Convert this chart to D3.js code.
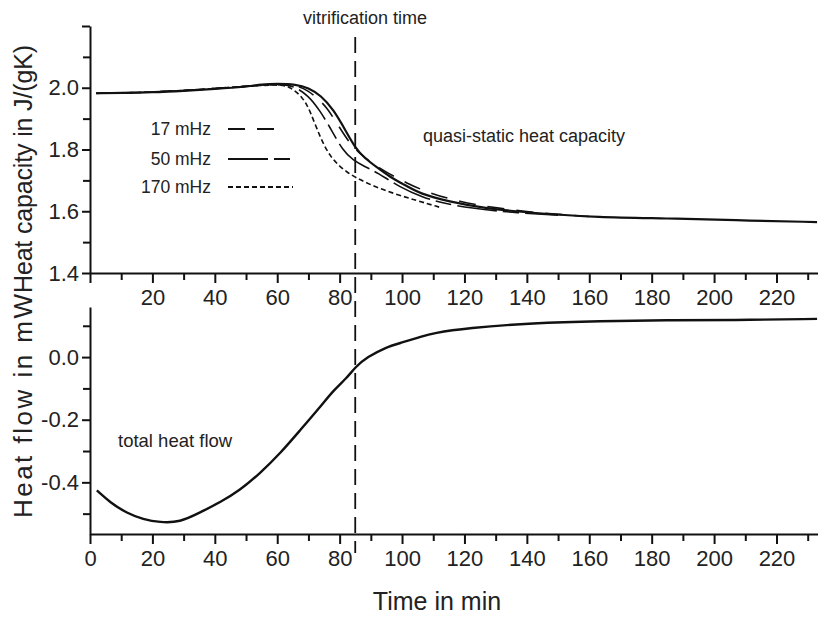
<!DOCTYPE html>
<html>
<head>
<meta charset="utf-8">
<script src="https://cdn.jsdelivr.net/npm/d3@7"></script>
<style>
  body { margin: 0; background: #fff; }
  text { font-family: "Liberation Sans", Arial, Helvetica, sans-serif; fill: #222; }
</style>
</head>
<body>
<div id="chart"></div>
<script>
// Heat capacity (J/(gK)) over time (min)
const timeQS = [2, 10, 20, 30, 40, 50, 55, 60, 66, 70, 74, 78, 82, 85, 88, 92, 96, 100, 106, 115, 126, 142, 163, 185, 206, 233];
const cpQS   = [1.982, 1.983, 1.985, 1.99, 1.996, 2.003, 2.011, 2.013, 2.011, 2.0, 1.975, 1.93, 1.86, 1.805, 1.772, 1.742, 1.712, 1.69, 1.655, 1.632, 1.61, 1.594, 1.58, 1.577, 1.571, 1.565];

const time17 = [2, 20, 40, 60, 66, 70, 73, 76, 80, 83.3, 86.5, 90, 94, 101.6, 109, 118, 130, 145, 160];
const cp17   = [1.982, 1.985, 1.997, 2.013, 2.01, 1.99, 1.965, 1.935, 1.871, 1.819, 1.787, 1.758, 1.732, 1.69, 1.658, 1.632, 1.61, 1.593, 1.583];

const time50 = [2, 20, 40, 60, 65, 70, 73.7, 77.5, 81, 84.3, 88, 92, 99.4, 106.7, 113, 122, 135, 150];
const cp50   = [1.982, 1.985, 1.997, 2.013, 2.008, 1.975, 1.926, 1.861, 1.797, 1.765, 1.745, 1.726, 1.677, 1.645, 1.626, 1.61, 1.596, 1.587];

const time170 = [2, 20, 40, 60, 64, 68.3, 70.5, 73.7, 77, 82, 88.7, 97, 104.7, 112];
const cp170   = [1.982, 1.985, 1.997, 2.012, 2.005, 1.968, 1.926, 1.84, 1.774, 1.726, 1.69, 1.658, 1.635, 1.613];

// Total heat flow (mW)
const timeHF = [2.2, 6.4, 11.9, 17, 22.4, 28.8, 35.3, 41.7, 48, 54.5, 61, 67.3, 73.7, 78, 82.3, 85, 88.8, 95, 99.4, 105.8, 110, 120.8, 142, 163.5, 185, 206, 233];
const heatFlow = [-0.426, -0.464, -0.499, -0.518, -0.528, -0.528, -0.496, -0.464, -0.426, -0.371, -0.307, -0.234, -0.16, -0.106, -0.067, -0.032, 0.0, 0.032, 0.045, 0.064, 0.077, 0.093, 0.109, 0.115, 0.118, 0.118, 0.122];

const vitrificationTime = 85;

const xTicks = d3.range(0, 240, 10);
const cpTicks = [1.4, 1.5, 1.6, 1.7, 1.8, 1.9, 2.0, 2.1, 2.2];
const cpLabels = [1.4, 1.6, 1.8, 2.0];
const hfTicks = [0.1, 0.0, -0.1, -0.2, -0.3, -0.4, -0.5];
const hfLabels = [0.0, -0.2, -0.4];

const legendNames = ["17 mHz", "50 mHz", "170 mHz"];
const legendDash = ["17,12", "40,6,16,6", "5,3"];

const width = 818, height = 619;

const svg = d3.select("#chart").append("svg")
    .attr("width", width)
    .attr("height", height);

// scales
const x = d3.scaleLinear().domain([0, 233.3]).range([90, 818]);
const yCp = d3.scaleLinear().domain([1.4, 2.2]).range([273, 26]);
const yHf = d3.scaleLinear().domain([-0.565, 0.16]).range([534, 307]);

const isMajorX = t => t % 20 === 0;
const near = (a, b) => Math.abs(a - b) < 1e-6;

function styleAxis(g, majorFn, majorLen, minorLen, horizontal) {
    g.select(".domain").attr("stroke", "#111").attr("stroke-width", 2);
    g.selectAll(".tick line")
        .attr("stroke", "#111")
        .attr("stroke-width", 2)
        .each(function (d) {
            const len = majorFn(d) ? majorLen : minorLen;
            d3.select(this).attr(horizontal ? "y2" : "x2", horizontal ? len : -len);
        });
    g.selectAll(".tick text")
        .style("font-family", '"Liberation Sans", Arial, sans-serif')
        .style("font-size", "22px")
        .attr("fill", "#222");
}

// top x axis
const xAxisTop = svg.append("g")
    .attr("transform", `translate(0,${yCp(1.4)})`)
    .call(d3.axisBottom(x).tickValues(xTicks).tickSizeOuter(0).tickPadding(10)
        .tickFormat(t => (isMajorX(t) && t > 0) ? t : ""));
styleAxis(xAxisTop, isMajorX, 10, 7, true);

// bottom x axis
const xAxisBottom = svg.append("g")
    .attr("transform", `translate(0,${yHf(-0.565)})`)
    .call(d3.axisBottom(x).tickValues(xTicks).tickSizeOuter(0).tickPadding(10)
        .tickFormat(t => isMajorX(t) ? t : ""));
styleAxis(xAxisBottom, isMajorX, 10, 7, true);

// top y axis
const yAxisTop = svg.append("g")
    .attr("transform", `translate(${x(0)},0)`)
    .call(d3.axisLeft(yCp).tickValues(cpTicks).tickSizeOuter(0).tickPadding(5)
        .tickFormat(v => cpLabels.some(l => near(l, v)) ? d3.format(".1f")(v) : ""));
styleAxis(yAxisTop, v => cpLabels.some(l => near(l, v)) || near(v, 2.2), 8, 7, false);

// bottom y axis
const yAxisBottom = svg.append("g")
    .attr("transform", `translate(${x(0)},0)`)
    .call(d3.axisLeft(yHf).tickValues(hfTicks).tickSizeOuter(0).tickPadding(5)
        .tickFormat(v => hfLabels.some(l => near(l, v)) ? d3.format(".1f")(v).replace("−", "-") : ""));
styleAxis(yAxisBottom, v => hfLabels.some(l => near(l, v)), 8, 7, false);

// lines
const cpLine = d3.line().x(d => x(d[0])).y(d => yCp(d[1])).curve(d3.curveBasis);
const hfLine = d3.line().x(d => x(d[0])).y(d => yHf(d[1])).curve(d3.curveBasis);

const cpSeries = [
    { t: time17, v: cp17, dash: legendDash[0], w: 1.6 },
    { t: time50, v: cp50, dash: legendDash[1], w: 1.6 },
    { t: time170, v: cp170, dash: legendDash[2], w: 1.6 },
    { t: timeQS, v: cpQS, dash: null, w: 2.2 }
];

svg.append("g").selectAll("path")
    .data(cpSeries)
    .enter().append("path")
    .attr("d", s => cpLine(d3.zip(s.t, s.v)))
    .attr("fill", "none")
    .attr("stroke", "#111")
    .attr("stroke-width", s => s.w)
    .attr("stroke-dasharray", s => s.dash);

svg.append("path")
    .datum(d3.zip(timeHF, heatFlow))
    .attr("d", hfLine)
    .attr("fill", "none")
    .attr("stroke", "#111")
    .attr("stroke-width", 2.4);

// vitrification marker
svg.append("line")
    .attr("x1", x(vitrificationTime)).attr("x2", x(vitrificationTime))
    .attr("y1", 37).attr("y2", 553)
    .attr("stroke", "#111")
    .attr("stroke-width", 1.8)
    .attr("stroke-dasharray", "16,8");

svg.append("text")
    .attr("x", 365).attr("y", 24)
    .attr("text-anchor", "middle")
    .style("font-size", "18px")
    .text("vitrification time");

// legend
const legend = svg.append("g").selectAll("g")
    .data(legendNames)
    .enter().append("g");

const legendY = [129, 159, 187];
legend.append("text")
    .attr("x", 211).attr("y", (d, i) => legendY[i] + 6)
    .attr("text-anchor", "end")
    .style("font-size", "17.5px")
    .text(d => d);

legend.append("line")
    .attr("x1", 228).attr("x2", (d, i) => i === 0 ? 283 : 293)
    .attr("y1", (d, i) => legendY[i]).attr("y2", (d, i) => legendY[i])
    .attr("stroke", "#111")
    .attr("stroke-width", 1.8)
    .attr("stroke-dasharray", (d, i) => legendDash[i]);

// annotations
svg.append("text")
    .attr("x", 423).attr("y", 142)
    .style("font-size", "18px")
    .text("quasi-static heat capacity");

svg.append("text")
    .attr("x", 118).attr("y", 447)
    .style("font-size", "18.5px")
    .text("total heat flow");

// axis titles
svg.append("text")
    .attr("x", 437).attr("y", 610)
    .attr("text-anchor", "middle")
    .style("font-size", "25px")
    .text("Time in min");

svg.append("text")
    .attr("transform", "translate(32,518) rotate(-90)")
    .attr("textLength", 224)
    .attr("lengthAdjust", "spacing")
    .style("font-size", "26px")
    .text("Heat flow in mW");

svg.append("text")
    .attr("transform", "translate(32,293) rotate(-90)")
    .attr("textLength", 248)
    .attr("lengthAdjust", "spacing")
    .style("font-size", "25px")
    .text("Heat capacity in J/(gK)");
</script>
</body>
</html>
